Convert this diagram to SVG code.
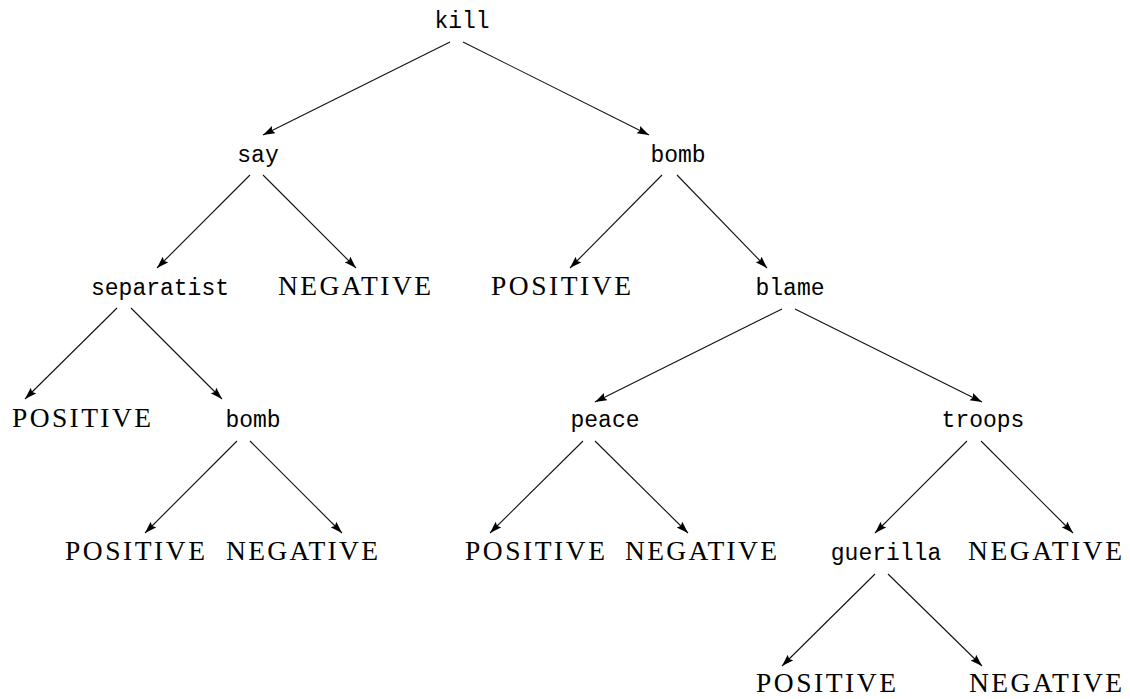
<svg xmlns="http://www.w3.org/2000/svg" width="1130" height="699" viewBox="0 0 1130 699">
<style>
.w{font-family:"Liberation Mono","DejaVu Sans Mono",monospace;font-size:23px;fill:#000;text-anchor:middle}
.c{font-family:"Liberation Serif","DejaVu Serif",serif;font-size:27.5px;fill:#000}
.e{stroke:#111;stroke-width:1.1;fill:none;marker-end:url(#ah)}
</style>
<defs>
<marker id="ah" markerUnits="userSpaceOnUse" markerWidth="14" markerHeight="10" refX="12" refY="4" orient="auto">
<path d="M0,0 L12,4 L0,8 L2,4 z" fill="#000"/>
</marker>
</defs>
<rect width="1130" height="699" fill="#fff"/>
<g id="connectors">
<line class="e" x1="450" y1="42" x2="263" y2="135"/>
<line class="e" x1="463" y1="42" x2="649" y2="135"/>
<line class="e" x1="250" y1="175" x2="157" y2="268"/>
<line class="e" x1="263" y1="175" x2="356" y2="268"/>
<line class="e" x1="662" y1="175" x2="570" y2="268"/>
<line class="e" x1="677" y1="175" x2="767" y2="268"/>
<line class="e" x1="117" y1="308" x2="25" y2="399"/>
<line class="e" x1="131" y1="308" x2="222" y2="399"/>
<line class="e" x1="782" y1="309" x2="595" y2="402"/>
<line class="e" x1="795" y1="309" x2="982" y2="402"/>
<line class="e" x1="237" y1="441" x2="145" y2="533"/>
<line class="e" x1="250" y1="441" x2="342" y2="533"/>
<line class="e" x1="583" y1="441" x2="490" y2="533"/>
<line class="e" x1="595" y1="441" x2="688" y2="533"/>
<line class="e" x1="967" y1="441" x2="875" y2="533"/>
<line class="e" x1="981" y1="441" x2="1073" y2="533"/>
<line class="e" x1="875" y1="574" x2="782" y2="666"/>
<line class="e" x1="888" y1="574" x2="982" y2="666"/>
</g>
<g id="n-kill"><text class="w" x="462" y="28">kill</text></g>
<g id="n-say"><text class="w" x="258" y="162">say</text></g>
<g id="n-bomb1"><text class="w" x="678" y="162">bomb</text></g>
<g id="n-separatist"><text class="w" x="160" y="295">separatist</text></g>
<g id="n-neg1"><text class="c" x="278" y="295" textLength="153" lengthAdjust="spacing">NEGATIVE</text></g>
<g id="n-pos1"><text class="c" x="491" y="295" textLength="140" lengthAdjust="spacing">POSITIVE</text></g>
<g id="n-blame"><text class="w" x="790" y="295">blame</text></g>
<g id="n-pos2"><text class="c" x="12" y="427" textLength="139" lengthAdjust="spacing">POSITIVE</text></g>
<g id="n-bomb2"><text class="w" x="253" y="427">bomb</text></g>
<g id="n-peace"><text class="w" x="605" y="427">peace</text></g>
<g id="n-troops"><text class="w" x="983" y="427">troops</text></g>
<g id="n-pos3"><text class="c" x="65" y="560" textLength="140" lengthAdjust="spacing">POSITIVE</text></g>
<g id="n-neg2"><text class="c" x="226" y="560" textLength="152" lengthAdjust="spacing">NEGATIVE</text></g>
<g id="n-pos4"><text class="c" x="465" y="560" textLength="140" lengthAdjust="spacing">POSITIVE</text></g>
<g id="n-neg3"><text class="c" x="625" y="560" textLength="152" lengthAdjust="spacing">NEGATIVE</text></g>
<g id="n-guerilla"><text class="w" x="886" y="560">guerilla</text></g>
<g id="n-neg4"><text class="c" x="968" y="560" textLength="154" lengthAdjust="spacing">NEGATIVE</text></g>
<g id="n-pos5"><text class="c" x="756" y="692" textLength="140" lengthAdjust="spacing">POSITIVE</text></g>
<g id="n-neg5"><text class="c" x="969" y="692" textLength="153" lengthAdjust="spacing">NEGATIVE</text></g>
</svg>
